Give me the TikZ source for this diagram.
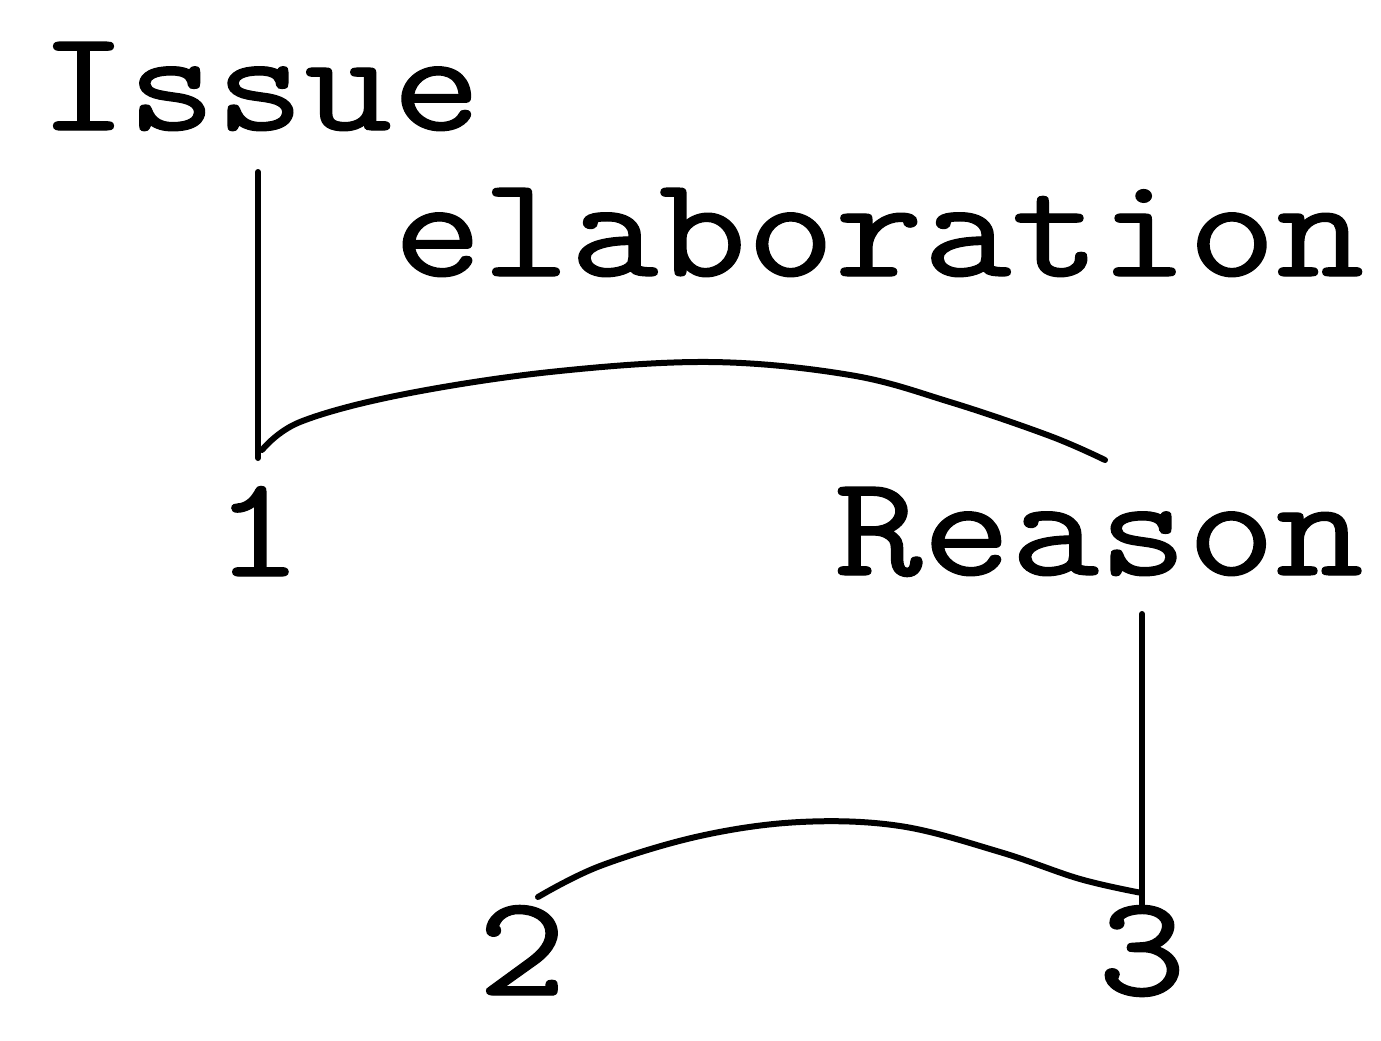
\documentclass[tikz,border=0pt]{standalone}
\usepackage{fontspec}
\newfontfamily\thickmono[FakeBold=0.8]{Latin Modern Mono}
\newcommand{\widetxt}[1]{\scalebox{1.19}[1]{#1}}
\begin{document}
\begin{tikzpicture}[x=0.5pt,y=-0.5pt,
  lbl/.style={anchor=base,inner sep=0pt,font=\fontsize{72}{72}\selectfont\thickmono},
  ln/.style={line width=3pt,line cap=round,line join=round}]
\useasboundingbox (0,0) rectangle (1381,1040);
\node[lbl] (issue) at (260,130) {\widetxt{Issue}};
\node[lbl] (elab) at (879,276) {\widetxt{elaboration}};
\node[lbl] (one) at (258,576) {\widetxt{1}};
\node[lbl] (reason) at (1099,575) {\widetxt{Reason}};
\node[lbl] (two) at (522,995) {\widetxt{2}};
\node[lbl] (three) at (1142,995) {\widetxt{3}};
\coordinate (a1) at (258,172);
\coordinate (a2) at (258,458);
\coordinate (b1) at (1142,614);
\coordinate (b2) at (1142,905);
\draw[ln] (a1) -- (a2);
\draw[ln] (b1) -- (b2);
\draw[ln] plot[smooth,tension=0.6] coordinates {(262,450) (300,422) (400,395) (550,372) (710,362) (850,375) (950,402) (1050,436) (1105,460)};
\draw[ln] plot[smooth,tension=0.6] coordinates {(538,897) (600,866) (700,836) (800,822) (900,826) (1000,852) (1080,879) (1142,893)};
\end{tikzpicture}
\end{document}
